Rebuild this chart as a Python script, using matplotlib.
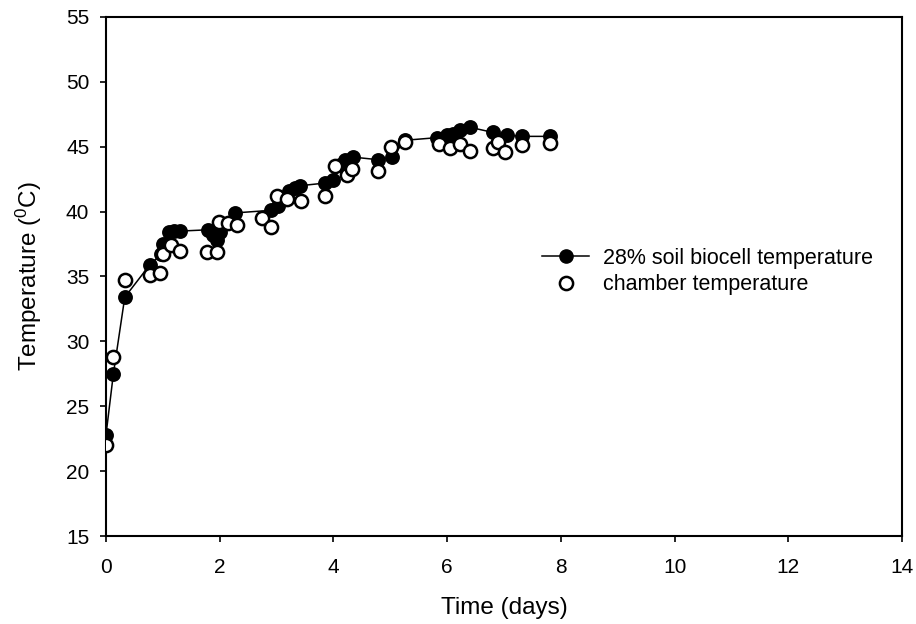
import matplotlib
matplotlib.use("Agg")
import matplotlib.pyplot as plt
from matplotlib.lines import Line2D

plt.rcParams['font.family'] = ['Liberation Sans', 'DejaVu Sans']
plt.rcParams['mathtext.fontset'] = 'custom'
plt.rcParams['mathtext.rm'] = 'Liberation Sans'
plt.rcParams['mathtext.it'] = 'Liberation Sans'

# Biocell (filled) series
bio_t = [0.0, 0.13, 0.33, 0.77, 0.97, 1.0, 1.1, 1.2, 1.3, 1.8, 1.89, 1.95, 2.0, 2.27,
         2.9, 3.02, 3.22, 3.32, 3.42, 3.85, 4.0, 4.12, 4.2, 4.35, 4.79, 5.03, 5.26,
         5.82, 5.99, 6.1, 6.23, 6.4, 6.81, 7.05, 7.31, 7.81]
bio_T = [22.8, 27.5, 33.4, 35.9, 36.7, 37.5, 38.4, 38.5, 38.5, 38.6, 38.2, 37.8, 38.4, 39.9,
         40.1, 40.4, 41.6, 41.8, 42.0, 42.2, 42.4, 43.6, 44.0, 44.2, 44.0, 44.2, 45.5,
         45.7, 45.9, 46.0, 46.3, 46.5, 46.1, 45.9, 45.8, 45.8]

# Chamber (open) series
ch_t = [0.0, 0.13, 0.33, 0.77, 0.95, 1.0, 1.15, 1.3, 1.77, 1.95, 1.98, 2.15, 2.3, 2.74,
        2.91, 3.0, 3.18, 3.43, 3.85, 4.03, 4.23, 4.32, 4.79, 5.02, 5.26, 5.85, 6.05,
        6.23, 6.4, 6.81, 6.9, 7.02, 7.31, 7.81]
ch_T = [22.0, 28.8, 34.7, 35.1, 35.3, 36.7, 37.4, 37.0, 36.9, 36.9, 39.2, 39.1, 39.0, 39.5,
        38.8, 41.2, 41.0, 40.8, 41.2, 43.5, 42.8, 43.3, 43.1, 45.0, 45.4, 45.2, 44.9,
        45.2, 44.7, 44.9, 45.4, 44.6, 45.1, 45.3]

x_ticks = [0, 2, 4, 6, 8, 10, 12, 14]
y_ticks = [15, 20, 25, 30, 35, 40, 45, 50, 55]

fig = plt.figure(figsize=(9.16, 6.24), dpi=100)
ax = fig.add_axes([106/916, 1-536/624, 796/916, 519/624])

ax.plot(bio_t, bio_T, color='black', lw=1.1, marker='o', ms=9.5,
        mfc='black', mec='black', mew=1.2, zorder=3)
ax.plot(ch_t, ch_T, ls='none', marker='o', ms=9.5, mfc='white',
        mec='black', mew=1.8, zorder=4)

ax.set_xlim(0, 14)
ax.set_ylim(15, 55)
ax.set_xticks(x_ticks)
ax.set_yticks(y_ticks)
ax.tick_params(direction='out', length=4, width=1.2, labelsize=15)
ax.tick_params(axis='x', pad=12)
ax.tick_params(axis='y', pad=8)
for s in ax.spines.values():
    s.set_linewidth(1.5)

ax.set_xlabel('Time (days)', fontsize=17.5, labelpad=14)
ax.set_ylabel(r'Temperature ($^{0}$C)', fontsize=17.5, labelpad=16)

h1 = Line2D([], [], color='black', lw=1.1, marker='o', ms=9.5, mfc='black', mec='black')
h2 = Line2D([], [], ls='none', marker='o', ms=9.5, mfc='white', mec='black', mew=1.8)
leg = fig.legend([h1, h2], ['28% soil biocell temperature', 'chamber temperature'],
                 loc='upper left', bbox_to_anchor=(542/916, 1-248/624),
                 frameon=False, fontsize=15.5, handlelength=2.2, handletextpad=0.65,
                 labelspacing=0.25, borderpad=0, borderaxespad=0)

fig.savefig('out.png', dpi=100)
